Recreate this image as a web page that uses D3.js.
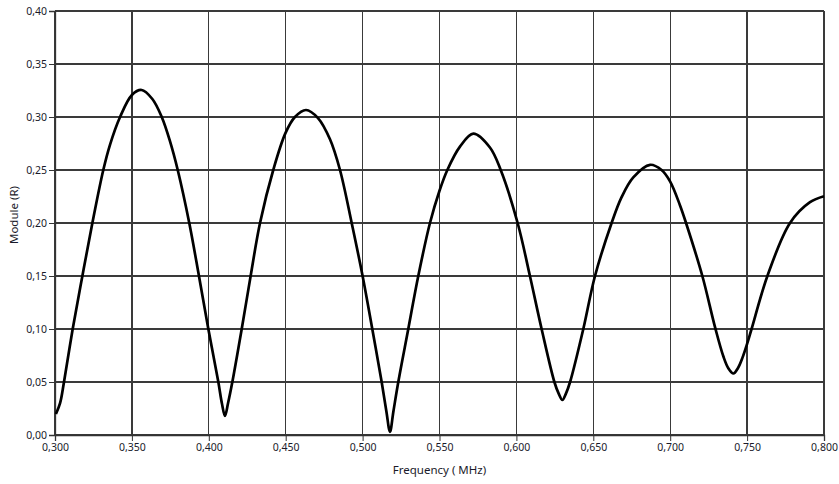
<!DOCTYPE html>
<html><head><meta charset="utf-8">
<script src="https://cdn.jsdelivr.net/npm/d3@7"></script>
<style>
body{margin:0;background:#fff;}
svg{display:block;}
.tick text{font-family:"Noto Sans","Open Sans",sans-serif;font-size:10.5px;fill:#1a1a2a;}
</style></head><body>
<svg id="c" width="839" height="484"></svg>
<script>
// Frequency (MHz) and module |R|
const freq = [0.3006,0.3033,0.30585,0.3115,0.3178,0.3243,0.3314,0.3358,0.3423,0.3500,0.3563,0.3633,0.3694,0.3748,0.3798,0.3873,0.3936,0.3997,0.4062,0.4085,0.4105,0.4125,0.4153,0.4214,0.4272,0.4333,0.4419,0.4499,0.4560,0.4632,0.4710,0.4788,0.4853,0.4929,0.5000,0.5063,0.5124,0.5155,0.5178,0.5200,0.5232,0.5297,0.5362,0.5438,0.5500,0.5551,0.5633,0.5720,0.5828,0.5898,0.6008,0.6088,0.6164,0.6247,0.6275,0.6299,0.6322,0.6349,0.6435,0.6511,0.6619,0.6684,0.6760,0.6869,0.6944,0.6999,0.7064,0.7103,0.7209,0.7291,0.7346,0.7378,0.7411,0.7440,0.7470,0.7500,0.7529,0.7632,0.7779,0.7909,0.8000];
const module = [0.0198,0.030,0.050,0.100,0.150,0.200,0.250,0.274,0.300,0.3208,0.3255,0.3170,0.300,0.277,0.250,0.200,0.150,0.100,0.050,0.030,0.018,0.030,0.050,0.100,0.150,0.200,0.250,0.285,0.300,0.3066,0.299,0.279,0.250,0.200,0.150,0.100,0.050,0.022,0.003,0.022,0.050,0.100,0.150,0.200,0.2304,0.250,0.272,0.2843,0.2712,0.250,0.200,0.150,0.100,0.050,0.039,0.033,0.039,0.050,0.100,0.150,0.200,0.2244,0.243,0.2549,0.250,0.2393,0.2166,0.200,0.150,0.102,0.074,0.063,0.058,0.063,0.073,0.086,0.100,0.150,0.200,0.2196,0.2252];
const xTicks = [0.30,0.35,0.40,0.45,0.50,0.55,0.60,0.65,0.70,0.75,0.80];
const xTickLabels = ["0,300","0,350","0,400","0,450","0,500","0,550","0,600","0,650","0,700","0,750","0,800"];
const yTicks = [0,0.05,0.10,0.15,0.20,0.25,0.30,0.35,0.40];
const yTickLabels = ["0,00","0,05","0,10","0,15","0,20","0,25","0,30","0,35","0,40"];
const xTitle = "Frequency ( MHz)";
const yTitle = "Module (R)";

const svg = d3.select("#c");
const L=55, R=824, T=11, B=435;
const x = d3.scaleLinear().domain([0.3,0.8]).range([L,R]);
const y = d3.scaleLinear().domain([0,0.4]).range([B,T]);

// grid
const g = svg.append("g");
g.selectAll("line.v").data(xTicks).join("line")
  .attr("x1",d=>x(d)).attr("x2",d=>x(d)).attr("y1",T).attr("y2",B)
  .attr("stroke","#3a3a3a").attr("stroke-width",1.3).attr("shape-rendering","crispEdges");
g.selectAll("line.h").data(yTicks).join("line")
  .attr("x1",L).attr("x2",R).attr("y1",d=>y(d)).attr("y2",d=>y(d))
  .attr("stroke","#3a3a3a").attr("stroke-width",1.3).attr("shape-rendering","crispEdges");

// axes
const xAxis = d3.axisBottom(x).tickValues(xTicks).tickFormat((d,i)=>xTickLabels[i]).tickSize(6).tickPadding(3);
const yAxis = d3.axisLeft(y).tickValues(yTicks).tickFormat((d,i)=>yTickLabels[i]).tickSize(6).tickPadding(2);
const gx = svg.append("g").attr("transform",`translate(0,${B})`).call(xAxis);
const gy = svg.append("g").attr("transform",`translate(${L},0)`).call(yAxis);
[gx,gy].forEach(a=>{
  a.select(".domain").attr("stroke","#333").attr("stroke-width",1.3);
  a.selectAll(".tick line").attr("stroke","#333");
});

// curve
const line = d3.line().x((d,i)=>x(freq[i])).y((d,i)=>y(module[i])).curve(d3.curveCatmullRom.alpha(0.5));
svg.append("path").datum(module).attr("d",line)
  .attr("fill","none").attr("stroke","#000").attr("stroke-width",2.7).attr("stroke-linejoin","round");

// titles
svg.append("text").attr("x",(L+R)/2).attr("y",474).attr("text-anchor","middle")
  .attr("font-family","Noto Sans, Open Sans, sans-serif").attr("font-size",11.5).attr("fill","#1a1a2a").text(xTitle);
svg.append("text").attr("transform","translate(18,215) rotate(-90)").attr("text-anchor","middle")
  .attr("font-family","Noto Sans, Open Sans, sans-serif").attr("font-size",11.5).attr("fill","#1a1a2a").text(yTitle);
</script></body></html>
